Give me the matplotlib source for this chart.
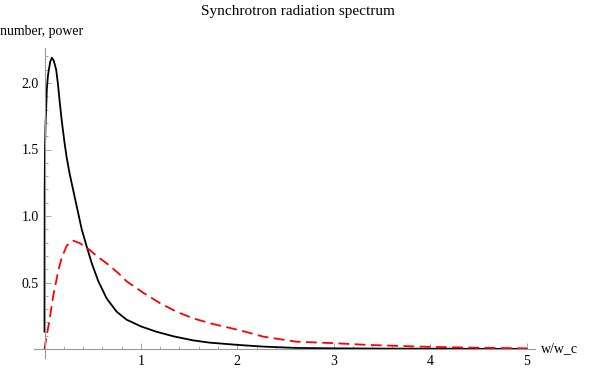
import numpy as np
import matplotlib
matplotlib.use("Agg")
import matplotlib.pyplot as plt

# values
black_x = [0, 0.002, 0.005, 0.01, 0.017, 0.024, 0.035, 0.045, 0.06, 0.076, 0.095, 0.121,
           0.14, 0.156, 0.18, 0.208, 0.23, 0.26, 0.293, 0.335, 0.386, 0.438, 0.49, 0.558,
           0.645, 0.749, 0.853, 1.0, 1.16, 1.34, 1.54, 1.71, 2.02, 2.27, 2.61, 3.0, 3.5,
           4.0, 4.5, 5.0]
black_y = [0.13, 1.2, 1.5, 1.68, 1.80, 1.95, 2.05, 2.10, 2.16, 2.19, 2.17, 2.10,
           1.99, 1.87, 1.71, 1.55, 1.44, 1.32, 1.21, 1.07, 0.90, 0.77, 0.645, 0.51,
           0.38, 0.28, 0.22, 0.17, 0.13, 0.095, 0.065, 0.048, 0.03, 0.018, 0.008, 0.005, 0.003,
           0.002, 0.001, 0.001]

red_x = [0, 0.02, 0.05, 0.091, 0.143, 0.18, 0.23, 0.26, 0.30, 0.368, 0.47, 0.54, 0.645, 0.766,
         0.85, 1.03, 1.2, 1.37, 1.545, 1.72, 2.03, 2.27, 2.61, 2.96, 3.38, 3.9, 4.42, 5.0]
red_y = [0, 0.09, 0.21, 0.40, 0.59, 0.69, 0.775, 0.80, 0.814, 0.795, 0.744, 0.70, 0.644, 0.57,
         0.51, 0.42, 0.344, 0.28, 0.23, 0.193, 0.14, 0.093, 0.055, 0.045, 0.03, 0.018, 0.01, 0.005]

title = "Synchrotron radiation spectrum"
ylabel = "number, power"
xlabel = "w/w_c"

plt.rcParams['font.family'] = ['Liberation Serif', 'DejaVu Serif']

W, H = 589, 371
fig = plt.figure(figsize=(W / 100, H / 100), dpi=100)

xmin, xmax = -0.11, 5.09
ymin, ymax = -0.07, 2.26
px_x, px_y = 96.4, 133.0
left = 44.5 + xmin * px_x
bottom = H - (349 - ymin * px_y)
ax = fig.add_axes([left / W, bottom / H, (xmax - xmin) * px_x / W, (ymax - ymin) * px_y / H])
ax.set_xlim(xmin, xmax)
ax.set_ylim(ymin, ymax)

ax.plot(black_x, black_y, color="black", lw=1.3, solid_joinstyle="round")
ax.plot(red_x, red_y, color="red", lw=1.3, dashes=(6, 3), dash_joinstyle="round")

for s in ["top", "right"]:
    ax.spines[s].set_visible(False)
ax.spines["left"].set_position(("data", 0))
ax.spines["bottom"].set_position(("data", 0))
for s in ["left", "bottom"]:
    ax.spines[s].set_color("#999999")
    ax.spines[s].set_linewidth(0.8)

ax.set_xticks([1, 2, 3, 4, 5])
ax.set_xticks(np.arange(0.2, 5.01, 0.2), minor=True)
ax.set_yticks([0.5, 1.0, 1.5, 2.0])
ax.set_yticklabels(["0.5", "1.0", "1.5", "2.0"])
ax.set_yticks(np.arange(0.1, 2.25, 0.1), minor=True)
ax.tick_params(which="both", direction="in", color="#999999", width=0.6, labelsize=10)
ax.tick_params(which="major", length=4, pad=4)
ax.tick_params(which="minor", length=2.3)

fig.text(298 / W, 1 - 12 / H, title, ha="center", va="center", fontsize=11)
fig.text(0, 1 - 32 / H, ylabel, ha="left", va="center", fontsize=10)
fig.text(541 / W, 1 - 349 / H, xlabel, ha="left", va="center", fontsize=10)

fig.savefig("out.png", dpi=100)
